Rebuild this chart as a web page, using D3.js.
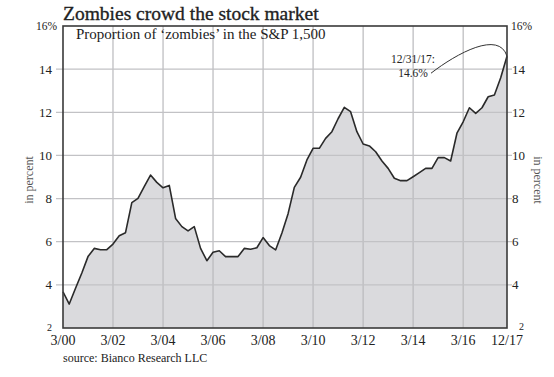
<!DOCTYPE html>
<html>
<head>
<meta charset="utf-8">
<script src="https://cdn.jsdelivr.net/npm/d3@7"></script>
<style>
    body { margin: 0; background: #fff; }
    svg { display: block; }
    text { font-family: "Liberation Serif", "DejaVu Serif", serif; fill: #222; }
</style>
</head>
<body>
<div id="chart"></div>
<script>
// proportion of zombies in the S&P 1,500, in percent, quarterly Mar 2000 .. Dec 2017
var zombieShare = [
    3.68, 3.11, 3.84, 4.55, 5.31, 5.69, 5.63, 5.63,
    5.89, 6.28, 6.42, 7.81, 8.01, 8.55, 9.09, 8.75,
    8.50, 8.61, 7.08, 6.70, 6.50, 6.70, 5.69, 5.12,
    5.51, 5.58, 5.31, 5.31, 5.31, 5.69, 5.65, 5.72,
    6.19, 5.82, 5.62, 6.40, 7.30, 8.52, 8.99, 9.79,
    10.33, 10.33, 10.79, 11.10, 11.70, 12.23, 12.03, 11.10,
    10.53, 10.44, 10.17, 9.74, 9.40, 8.94, 8.83, 8.83,
    9.01, 9.20, 9.40, 9.40, 9.90, 9.90, 9.74, 11.03,
    11.56, 12.21, 11.95, 12.21, 12.72, 12.80, 13.60, 14.60
];

var xTickYears = [2000, 2002, 2004, 2006, 2008, 2010, 2012, 2014, 2016];
var yTicks = [4, 6, 8, 10, 12, 14];

var width = 554, height = 377;
var margin = { top: 26, right: 47, bottom: 49, left: 63 };
var innerW = width - margin.left - margin.right;
var innerH = height - margin.top - margin.bottom;

var data = zombieShare.map(function (v, i) {
    var d = new Date(2000, 2 + 3 * i + 1, 0);
    return { date: d, value: v };
});

var x = d3.scaleTime()
    .domain([data[0].date, data[data.length - 1].date])
    .range([0, innerW]);
var y = d3.scaleLinear()
    .domain([2, 16])
    .range([innerH, 0]);

var svg = d3.select('#chart').append('svg')
    .attr('width', width)
    .attr('height', height);

svg.append('text')
    .attr('x', margin.left)
    .attr('y', 20)
    .style('font-size', '19.5px')
    .style('stroke', '#222')
    .style('stroke-width', 0.35)
    .text('Zombies crowd the stock market');

var g = svg.append('g')
    .attr('transform', 'translate(' + margin.left + ',' + margin.top + ')');

// area under the line
g.append('path')
    .datum(data)
    .attr('fill', '#dadadd')
    .attr('d', d3.area()
        .x(function (d) { return x(d.date); })
        .y0(innerH)
        .y1(function (d) { return y(d.value); }));

// grid
var xGrid = xTickYears.slice(1).map(function (yr) { return new Date(yr, 2, 31); });
g.append('g').selectAll('line')
    .data(xGrid)
    .enter().append('line')
    .attr('x1', function (d) { return x(d); })
    .attr('x2', function (d) { return x(d); })
    .attr('y1', 0)
    .attr('y2', innerH)
    .attr('stroke', '#b9b9bc')
    .attr('stroke-width', 1.2);
g.append('g').selectAll('line')
    .data(yTicks)
    .enter().append('line')
    .attr('x1', -7)
    .attr('x2', innerW + 5)
    .attr('y1', function (d) { return y(d); })
    .attr('y2', function (d) { return y(d); })
    .attr('stroke', '#c2c2c5')
    .attr('stroke-width', 1.2);

// data line
g.append('path')
    .datum(data)
    .attr('fill', 'none')
    .attr('stroke', '#2a2a2a')
    .attr('stroke-width', 1.6)
    .attr('stroke-linejoin', 'round')
    .attr('d', d3.line()
        .x(function (d) { return x(d.date); })
        .y(function (d) { return y(d.value); }));

// frame
g.append('rect')
    .attr('x', 0)
    .attr('y', 0)
    .attr('width', innerW)
    .attr('height', innerH)
    .attr('fill', 'none')
    .attr('stroke', '#3a3a3a')
    .attr('stroke-width', 1.6);

// y labels both sides
g.append('g').selectAll('text')
    .data(yTicks)
    .enter().append('text')
    .attr('x', -11)
    .attr('y', function (d) { return y(d); })
    .attr('dy', '0.35em')
    .attr('text-anchor', 'end')
    .style('font-size', '13px')
    .text(function (d) { return d; });
g.append('g').selectAll('text')
    .data(yTicks)
    .enter().append('text')
    .attr('x', innerW + 5)
    .attr('y', function (d) { return y(d); })
    .attr('dy', '0.35em')
    .style('font-size', '13px')
    .text(function (d) { return d; });

g.append('text')
    .attr('x', -6)
    .attr('y', y(16) + 4)
    .attr('text-anchor', 'end')
    .style('font-size', '11.5px')
    .text('16%');
g.append('text')
    .attr('x', innerW + 4)
    .attr('y', y(16) + 4)
    .style('font-size', '11.5px')
    .text('16%');
g.append('text')
    .attr('x', -11)
    .attr('y', y(2) + 3)
    .attr('text-anchor', 'end')
    .style('font-size', '10px')
    .text('2');
g.append('text')
    .attr('x', innerW + 12)
    .attr('y', y(2) + 2)
    .style('font-size', '10px')
    .text('2');

// axis titles
g.append('text')
    .attr('transform', 'translate(-30,' + (innerH / 2 + 3) + ') rotate(-90)')
    .attr('text-anchor', 'middle')
    .style('font-size', '12px')
    .style('fill', '#555')
    .text('in percent');
g.append('text')
    .attr('transform', 'translate(' + (innerW + 27) + ',' + (innerH / 2 + 3) + ') rotate(90)')
    .attr('text-anchor', 'middle')
    .style('font-size', '12px')
    .style('fill', '#555')
    .text('in percent');

// x labels
var xLabels = xTickYears.map(function (yr) {
    return { date: new Date(yr, 2, 31), label: '3/' + String(yr % 100).padStart(2, '0') };
});
xLabels.push({ date: data[data.length - 1].date, label: '12/17' });
g.append('g').selectAll('text')
    .data(xLabels)
    .enter().append('text')
    .attr('x', function (d) { return x(d.date); })
    .attr('y', innerH + 17)
    .attr('text-anchor', 'middle')
    .style('font-size', '14px')
    .text(function (d) { return d.label; });

g.append('text')
    .attr('x', 0)
    .attr('y', 362 - margin.top)
    .style('font-size', '12px')
    .text('source: Bianco Research LLC');

// subtitle inside the plot
g.append('text')
    .attr('x', 13)
    .attr('y', 13)
    .style('font-size', '15px')
    .text('Proportion of \u2018zombies\u2019 in the S&P 1,500');

// annotation for last point
var last = data[data.length - 1];
var ex = x(last.date), ey = y(last.value);
var p = d3.path();
p.moveTo(ex - 76, ey + 17);
p.bezierCurveTo(ex - 50, ey - 3, ex - 8, ey - 26, ex, ey);
g.append('path')
    .attr('d', p.toString())
    .attr('fill', 'none')
    .attr('stroke', '#333')
    .attr('stroke-width', 1);
g.append('text')
    .attr('x', ex - 94)
    .attr('y', ey + 7)
    .attr('text-anchor', 'middle')
    .style('font-size', '11.5px')
    .text('12/31/17:');
g.append('text')
    .attr('x', ex - 94)
    .attr('y', ey + 20.5)
    .attr('text-anchor', 'middle')
    .style('font-size', '11.5px')
    .text('14.6%');
</script>
</body>
</html>
